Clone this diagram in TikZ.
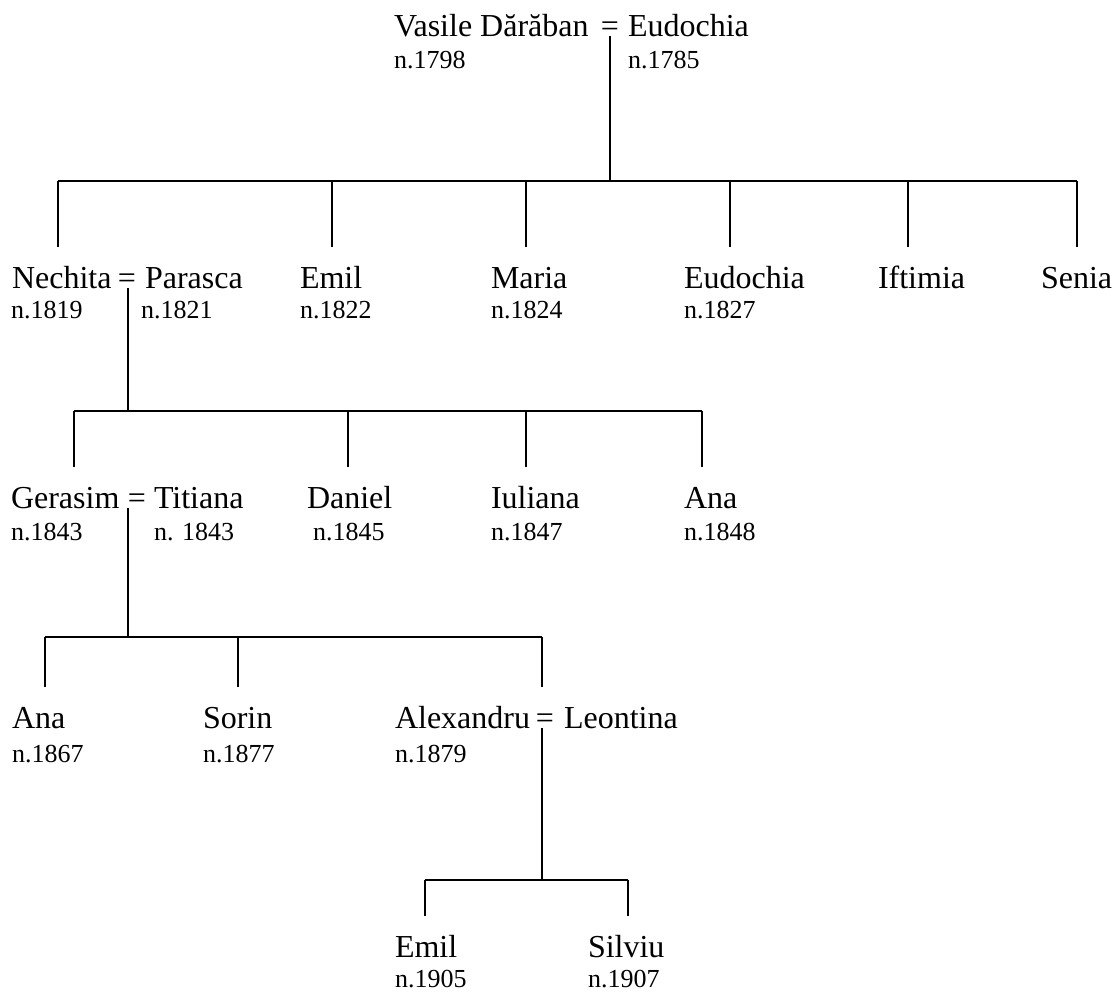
\documentclass[tikz,border=0pt]{standalone}
\usepackage{fontspec}
\setmainfont{Liberation Serif}

\begin{document}
\begin{tikzpicture}[
    x=0.5pt, y=-0.5pt,
    line width=1pt,
    every node/.style={inner xsep=0pt, anchor=base west},
    person/.style={font=\fontsize{16}{19}\selectfont, text height=11pt, inner ysep=9pt},
    marriage/.style={person, anchor=base},
    year/.style={font=\fontsize{13}{15}\selectfont, inner ysep=0pt}
]
\useasboundingbox (0,0) rectangle (1117,991);

    % Generation 1
    \node[person] (vasile) at (393,36) {Vasile Dărăban};
    \node[marriage] (eqA) at (610,36) {=};
    \node[person] (eudochiaA) at (627,36) {Eudochia};
    \node[year] (yvasile) at (393,68) {n.1798};
    \node[year] (yeudochiaA) at (627,68) {n.1785};

    % Generation 2
    \node[person] (nechita) at (11,288) {Nechita};
    \node[marriage] (eqB) at (127,288) {=};
    \node[person] (parasca) at (144,288) {Parasca};
    \node[person] (emilA) at (299,288) {Emil};
    \node[person] (maria) at (490,288) {Maria};
    \node[person] (eudochiaB) at (683,288) {Eudochia};
    \node[person] (iftimia) at (877,288) {Iftimia};
    \node[person] (senia) at (1040,288) {Senia};
    \node[year] (ynechita) at (10,318) {n.1819};
    \node[year] (yparasca) at (140,318) {n.1821};
    \node[year] (yemilA) at (299,318) {n.1822};
    \node[year] (ymaria) at (490,318) {n.1824};
    \node[year] (yeudochiaB) at (683,318) {n.1827};

    % Generation 3
    \node[person] (gerasim) at (10,508) {Gerasim};
    \node[marriage] (eqC) at (137,508) {=};
    \node[person] (titiana) at (153,508) {Titiana};
    \node[person] (daniel) at (306,508) {Daniel};
    \node[person] (iuliana) at (490,508) {Iuliana};
    \node[person] (anaA) at (683,508) {Ana};
    \node[year] (ygerasim) at (10,540) {n.1843};
    \node[year] (ytitiana) at (153,540) {n. 1843};
    \node[year] (ydaniel) at (312,540) {n.1845};
    \node[year] (yiuliana) at (490,540) {n.1847};
    \node[year] (yanaA) at (683,540) {n.1848};

    % Generation 4
    \node[person] (anaB) at (11,728) {Ana};
    \node[person] (sorin) at (202,728) {Sorin};
    \node[person] (alexandru) at (394,728) {Alexandru};
    \node[marriage] (eqD) at (545,728) {=};
    \node[person] (leontina) at (563,728) {Leontina};
    \node[year] (yanaB) at (11,762) {n.1867};
    \node[year] (ysorin) at (202,762) {n.1877};
    \node[year] (yalexandru) at (394,762) {n.1879};

    % Generation 5
    \node[person] (emilB) at (394,957) {Emil};
    \node[person] (silviu) at (587,957) {Silviu};
    \node[year] (yemilB) at (394,987) {n.1905};
    \node[year] (ysilviu) at (587,987) {n.1907};

    % Junctions on the bars
    \coordinate (jA) at (610,181);
    \coordinate (jB) at (128,411);
    \coordinate (jC) at (128,637);
    \coordinate (jD) at (542,880);

    % Drop points on the bars
    \coordinate (kA1) at (58,181);
    \coordinate (kA2) at (332,181);
    \coordinate (kA3) at (526,181);
    \coordinate (kA4) at (730,181);
    \coordinate (kA5) at (908,181);
    \coordinate (kA6) at (1077,181);
    \coordinate (kB1) at (74,411);
    \coordinate (kB2) at (348,411);
    \coordinate (kB3) at (526,411);
    \coordinate (kB4) at (702,411);
    \coordinate (kC1) at (45,637);
    \coordinate (kC2) at (238,637);
    \coordinate (kC3) at (542,637);
    \coordinate (kD1) at (425,880);
    \coordinate (kD2) at (628,880);

    % Lines
    \draw (eqA.base -| jA) -- (jA);
    \draw (kA1) -- (kA6);
    \draw (kA1) -- (kA1 |- nechita.north);
    \draw (kA2) -- (kA2 |- emilA.north);
    \draw (kA3) -- (kA3 |- maria.north);
    \draw (kA4) -- (kA4 |- eudochiaB.north);
    \draw (kA5) -- (kA5 |- iftimia.north);
    \draw (kA6) -- (kA6 |- senia.north);

    \draw (eqB.base -| jB) -- (jB);
    \draw (kB1) -- (kB4);
    \draw (kB1) -- (kB1 |- gerasim.north);
    \draw (kB2) -- (kB2 |- daniel.north);
    \draw (kB3) -- (kB3 |- iuliana.north);
    \draw (kB4) -- (kB4 |- anaA.north);

    \draw (eqC.base -| jC) -- (jC);
    \draw (kC1) -- (kC3);
    \draw (kC1) -- (kC1 |- anaB.north);
    \draw (kC2) -- (kC2 |- sorin.north);
    \draw (kC3) -- (kC3 |- alexandru.north);

    \draw (eqD.base -| jD) -- (jD);
    \draw (kD1) -- (kD2);
    \draw (kD1) -- (kD1 |- emilB.north);
    \draw (kD2) -- (kD2 |- silviu.north);

\end{tikzpicture}
\end{document}
